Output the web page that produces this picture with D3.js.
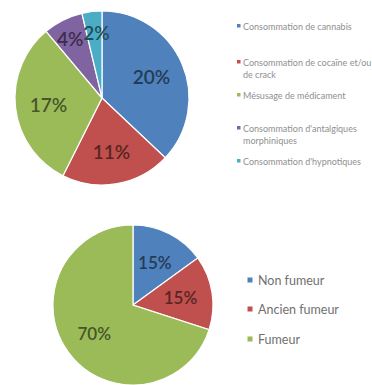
<!DOCTYPE html>
<html>
<head>
<meta charset="utf-8">
<script src="https://cdn.jsdelivr.net/npm/d3@7"></script>
<style>
  html, body { margin: 0; padding: 0; background: #fff; }
  svg { display: block; }
</style>
</head>
<body>
<svg id="chart" width="372" height="385"></svg>
<script>
// Consommations (top pie)
const usageCategories = [
  "Consommation de cannabis",
  "Consommation de cocaïne et/ou de crack",
  "Mésusage de médicament",
  "Consommation d'antalgiques morphiniques",
  "Consommation d'hypnotiques"
];
const usageValues = [20, 11, 17, 4, 2];
const usageLegendLines = [
  ["Consommation de cannabis"],
  ["Consommation de cocaïne et/ou", "de crack"],
  ["Mésusage de médicament"],
  ["Consommation d'antalgiques", "morphiniques"],
  ["Consommation d'hypnotiques"]
];

// Statut tabagique (bottom pie)
const smokeCategories = ["Non fumeur", "Ancien fumeur", "Fumeur"];
const smokeValues = [15, 15, 70];

const palette = ["#4F81BD", "#C0504D", "#9BBB59", "#8064A2", "#4BACC6"];

const svg = d3.select("#chart");
const font = "Lato, 'Open Sans', sans-serif";

function drawPie(values, cx, cy, r, fontSize, labelFn) {
  const pie = d3.pie().sort(null).value(d => d);
  const arcs = pie(values);
  const arc = d3.arc().innerRadius(0).outerRadius(r);
  const g = svg.append("g").attr("transform", `translate(${cx},${cy})`);
  g.selectAll("path.slice")
    .data(arcs)
    .join("path")
    .attr("class", "slice")
    .attr("d", arc)
    .attr("fill", (d, i) => palette[i])
    .attr("stroke", "#fff")
    .attr("stroke-width", 1.2);

  const labels = g.selectAll("text.val")
    .data(arcs)
    .join("text")
    .attr("class", "val")
    .attr("text-anchor", "middle")
    .attr("dominant-baseline", "central")
    .attr("font-family", font)
    .attr("font-weight", 600)
    .attr("font-size", fontSize)
    .attr("fill", (d, i) => d3.color(palette[i]).darker(2.2))
    .text(d => d.data + "%");

  // place at a centroid, then push neighbouring labels apart if they collide
  const pos = arcs.map(d => {
    const lr = labelFn(d) * r;
    return d3.arc().innerRadius(lr).outerRadius(lr).centroid(d);
  });
  const widths = labels.nodes().map(n => n.getComputedTextLength());
  for (let i = 1; i < pos.length; i++) {
    const a = pos[i - 1], b = pos[i];
    if (Math.abs(a[1] - b[1]) < fontSize) {
      const left = a[0] < b[0] ? i - 1 : i, right = left === i ? i - 1 : i;
      const gap = (pos[right][0] - widths[right] / 2) - (pos[left][0] + widths[left] / 2);
      if (gap < 0) {
        pos[left][0] += gap / 2;
        pos[right][0] -= gap / 2;
      }
    }
  }
  labels.attr("transform", (d, i) => `translate(${pos[i][0]},${pos[i][1]})`);
}

// Top pie
drawPie(usageValues, 102, 98, 87, 19,
  d => (d.endAngle - d.startAngle) < 0.5 ? 0.76 : 0.62);

// Bottom pie
drawPie(smokeValues, 133, 305, 80, 17, () => 0.6);

// Top legend
const legTop = svg.append("g").attr("transform", "translate(239,0)");
const topRowY = [26, 62, 95, 128, 161];
usageCategories.forEach((c, i) => {
  const row = legTop.append("g").attr("transform", `translate(0,${topRowY[i]})`);
  row.append("rect")
    .attr("x", -2).attr("y", -2).attr("width", 3.5).attr("height", 3.5)
    .attr("fill", palette[i]);
  usageLegendLines[i].forEach((line, j) => {
    row.append("text")
      .attr("x", 4)
      .attr("y", j * 12)
      .attr("dominant-baseline", "central")
      .attr("font-family", font)
      .attr("font-size", 9)
      .attr("fill", "#8f8f8f")
      .text(line);
  });
});

// Bottom legend
const legBot = svg.append("g").attr("transform", "translate(250,0)");
const botRowY = [280, 309, 339];
smokeCategories.forEach((c, i) => {
  const row = legBot.append("g").attr("transform", `translate(0,${botRowY[i]})`);
  row.append("rect")
    .attr("x", -2.5).attr("y", -2.5).attr("width", 5).attr("height", 5)
    .attr("fill", palette[i]);
  row.append("text")
    .attr("x", 8)
    .attr("y", 0)
    .attr("dominant-baseline", "central")
    .attr("font-family", font)
    .attr("font-size", 12.5)
    .attr("fill", "#707070")
    .text(c);
});
</script>
</body>
</html>
